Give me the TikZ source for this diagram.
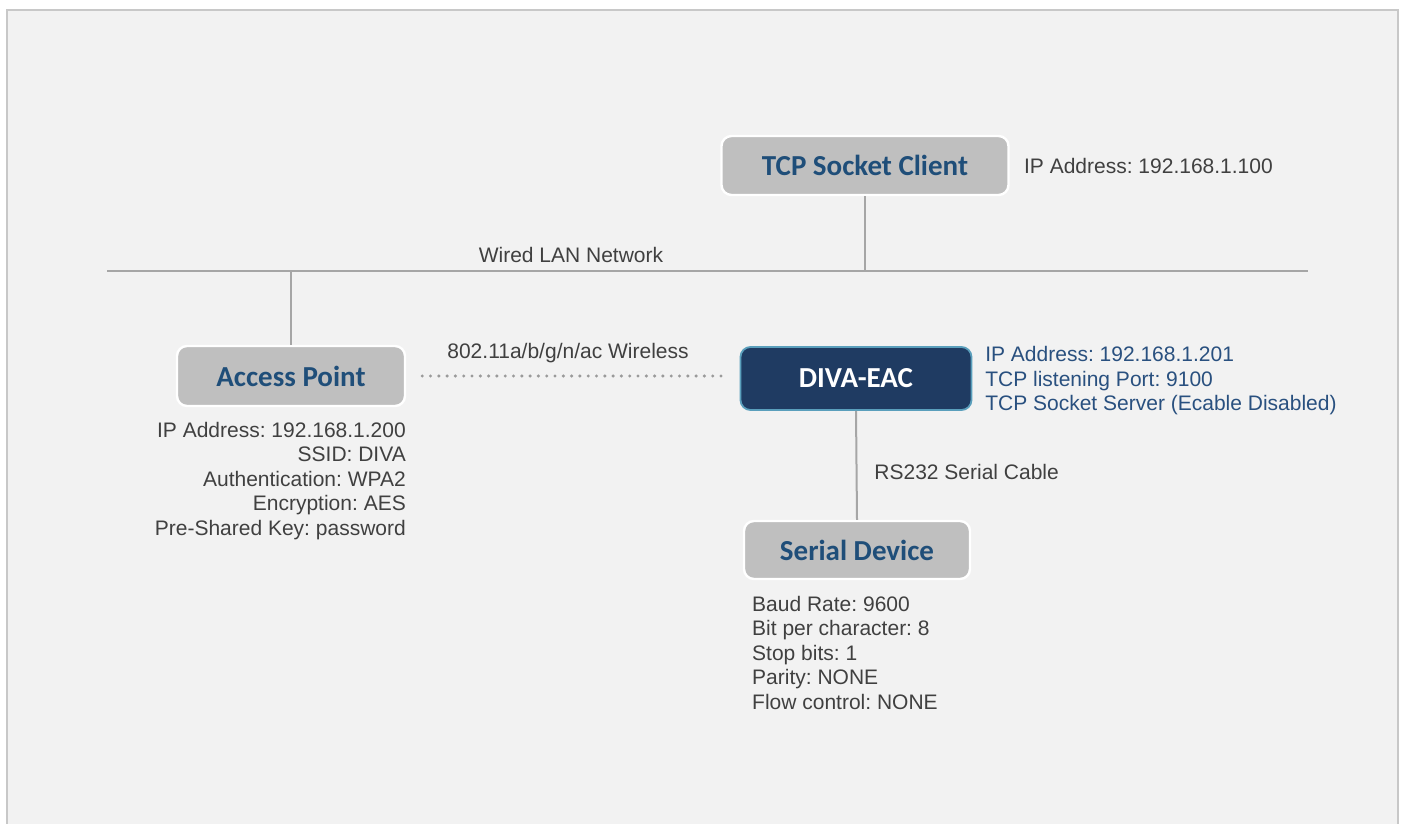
\documentclass[tikz,border=0pt]{standalone}
\usepackage{fontspec}
\setmainfont{Liberation Sans}
\newfontfamily\titlefont{Carlito}
\usetikzlibrary{positioning}
\frenchspacing

\definecolor{panelfill}{HTML}{F2F2F2}
\definecolor{paneledge}{HTML}{C8C8C8}
\definecolor{boxgray}{HTML}{BFBFBF}
\definecolor{titleblue}{HTML}{1F4E79}
\definecolor{divanavy}{HTML}{1F3B62}
\definecolor{divaedge}{HTML}{5A9FBC}
\definecolor{infogray}{HTML}{404040}
\definecolor{infoblue}{HTML}{29507F}
\definecolor{wiregray}{HTML}{A6A6A6}
\definecolor{dotgray}{HTML}{9A9A9A}

\begin{document}
\begin{tikzpicture}[
        x=0.5pt, y=-0.5pt,
        devbox/.style={
            rectangle,
            draw=white,
            line width=1.2pt,
            fill=boxgray,
            rounded corners=5pt,
            minimum height=29.5pt,
            font=\titlefont\bfseries\fontsize{14.5}{17}\selectfont,
            text=titleblue
        },
        divabox/.style={
            devbox,
            fill=divanavy,
            draw=divaedge,
            line width=0.9pt,
            text=white
        },
        info/.style={
            inner sep=0pt,
            font=\fontsize{10.5}{12.25}\selectfont,
            text=infogray
        },
        wire/.style={
            draw=wiregray,
            line width=1pt
        },
        wireless/.style={
            draw=dotgray,
            line width=1.7pt,
            line cap=round,
            dash pattern=on 0pt off 4.15pt
        }
    ]

    % Page and background panel
    \useasboundingbox (0,0) rectangle (1402,824);
    \fill[white] (0,0) rectangle (1402,824);
    \draw[paneledge, fill=panelfill, line width=1pt] (7,10) rectangle (1398,840);

    % Devices
    \node[devbox, minimum width=143.5pt] (client) at (865,165.5) {TCP Socket Client};
    \node[devbox, minimum width=114pt, minimum height=30pt] (ap) at (291,376) {Access Point};
    \node[divabox, minimum width=115.5pt, minimum height=31.5pt] (diva) at (856,378.5) {DIVA-EAC};
    \node[devbox, minimum width=113pt, minimum height=29pt] (serial) at (857,550) {Serial Device};

    % Wired LAN bus
    \coordinate (lanL) at (107,271);
    \coordinate (lanR) at (1308,271);
    \draw[wire] (lanL) -- (lanR);
    \node[info] (lanlabel) at (571,255) {Wired LAN Network};

    % Connections
    \draw[wire] (client.south) -- (client.south |- lanL);
    \draw[wire] (ap.north) -- (ap.north |- lanL);
    \draw[wireless] ([xshift=8pt]ap.east) -- ([xshift=-9pt]diva.west |- ap.east);
    \draw[wire] (diva.south) -- (serial.north);

    % Link labels
    \node[info] (wifilabel) at (568,353) {802.11a/b/g/n/ac Wireless};
    \node[info, anchor=west] (rslabel) at (874,472) {RS232 Serial Cable};

    % Device settings
    \node[info, anchor=west, xshift=7pt] (clientinfo) at (client.east) {IP Address: 192.168.1.100};
    \node[info, anchor=north east, align=right, yshift=-7.25pt] (apinfo) at (ap.south east)
        {IP Address: 192.168.1.200\\SSID: DIVA\\Authentication: WPA2\\Encryption: AES\\Pre-Shared Key: password};
    \node[info, anchor=north west, align=left, xshift=6.25pt, text=infoblue] (divainfo) at (diva.north east)
        {IP Address: 192.168.1.201\\TCP listening Port: 9100\\TCP Socket Server (Ecable Disabled)};
    \node[info, anchor=north west, align=left, xshift=4.5pt, yshift=-7.75pt] (serialinfo) at (serial.south west)
        {Baud Rate: 9600\\Bit per character: 8\\Stop bits: 1\\Parity: NONE\\Flow control: NONE};

\end{tikzpicture}
\end{document}
